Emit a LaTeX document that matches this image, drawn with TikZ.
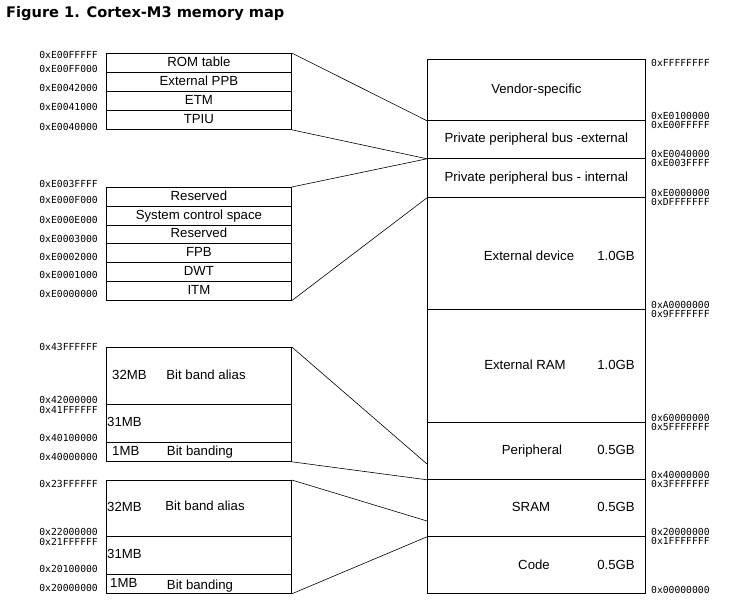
\documentclass[tikz,border=0pt]{standalone}
\usepackage{fontspec}
\setmainfont{Liberation Sans}
\newfontfamily\hexfont{DejaVu Sans Mono}
\newfontfamily\titlefont{DejaVu Sans}
\usetikzlibrary{positioning}
\tikzset{
  region/.style={draw, line width=0.8pt, minimum width=218pt, inner sep=0pt,
    anchor=north west, text height=9.5pt, text depth=2.5pt, font=\fontsize{13.2}{15}\selectfont},
  cell/.style={draw, line width=0.8pt, minimum width=185pt, inner sep=0pt,
    anchor=north west, text height=9.5pt, text depth=2.5pt, font=\fontsize{13.2}{15}\selectfont},
  txt/.style={inner sep=0pt, text height=9.5pt, text depth=2.5pt, font=\fontsize{13.2}{15}\selectfont},
  addr/.style={inner sep=0pt, font=\hexfont\fontsize{9.7}{10}\selectfont},
  link/.style={line width=0.6pt}
}
\begin{document}
\begin{tikzpicture}[x=1pt, y=-1pt]
        \useasboundingbox (0,0) rectangle (731,602);
        % 标题
        \node[anchor=west, inner sep=0pt, font=\titlefont\bfseries\fontsize{14.6}{16}\selectfont] (title) at (6,14) {Figure 1. Cortex-M3 memory map};

        % 右侧: 4GB 存储映射
        \node[region, minimum height=61pt] (vendor) at (427,59) {Vendor-specific};
        \node[region, minimum height=38pt] (ppbext) at (427,120) {Private peripheral bus -external};
        \node[region, minimum height=39pt] (ppbint) at (427,158) {Private peripheral bus - internal};
        \node[region, minimum height=112pt] (extdev) at (427,197) {};
        \node[region, minimum height=113pt] (extram) at (427,309) {};
        \node[region, minimum height=57pt] (periph) at (427,422) {};
        \node[region, minimum height=57pt] (sram) at (427,479) {};
        \node[region, minimum height=57pt] (code) at (427,536) {};

        \node[txt] (extdevN) at (529,257) {External device};
        \node[txt] (extdevS) at (616,257) {1.0GB};
        \node[txt] (extramN) at (525,365.5) {External RAM};
        \node[txt] (extramS) at (616,365.5) {1.0GB};
        \node[txt] (periphN) at (532,451) {Peripheral};
        \node[txt] (periphS) at (616,451) {0.5GB};
        \node[txt] (sramN) at (531,508) {SRAM};
        \node[txt] (sramS) at (616,508) {0.5GB};
        \node[txt] (codeN) at (534,566) {Code};
        \node[txt] (codeS) at (616,566) {0.5GB};

        % 右侧地址
        \foreach \y/\a [count=\i] in {63/0xFFFFFFFF, 115.5/0xE0100000, 124.5/0xE00FFFFF,
            153.5/0xE0040000, 162.5/0xE003FFFF, 192.5/0xE0000000, 201.5/0xDFFFFFFF,
            304.5/0xA0000000, 313.5/0x9FFFFFFF, 417.5/0x60000000, 426.5/0x5FFFFFFF,
            474.5/0x40000000, 483.5/0x3FFFFFFF, 531.5/0x20000000, 540.5/0x1FFFFFFF,
            590/0x00000000}
          \node[addr, anchor=west] (ra\i) at (651,\y) {\a};

        % 左侧: 外部 PPB
        \foreach \n/\y/\t in {rom/53/ROM table, extppb/72/External PPB, etm/91/ETM, tpiu/110/TPIU}
          \node[cell, minimum height=19pt] (\n) at (106,\y) {\t};

        % 左侧: 内部 PPB
        \foreach \n/\y/\t in {res1/187/Reserved, scs/205.8/System control space, res2/224.6/Reserved,
            fpb/243.4/FPB, dwt/262.2/DWT, itm/281/ITM}
          \node[cell, minimum height=18.8pt] (\n) at (106,\y) {\t};

        % 左侧: 外设位带
        \node[cell, minimum height=57pt] (palias) at (106,347) {};
        \node[cell, minimum height=38pt] (pgap) at (106,404) {};
        \node[cell, minimum height=19pt] (pband) at (106,442) {};
        \node[txt, anchor=west] (p32) at (112,375.5) {32MB};
        \node[txt] (paliasT) at (206,375.5) {Bit band alias};
        \node[txt, anchor=west] (p31) at (107,423) {31MB};
        \node[txt, anchor=west] (p1) at (112,451.5) {1MB};
        \node[txt] (pbandT) at (200,451.5) {Bit banding};

        % 左侧: SRAM 位带
        \node[cell, minimum height=56pt] (salias) at (106,480) {};
        \node[cell, minimum height=38pt] (sgap) at (106,536) {};
        \node[cell, minimum height=19pt] (sband) at (106,574) {};
        \node[txt, anchor=west] (s32) at (107,508) {32MB};
        \node[txt] (saliasT) at (205,507) {Bit band alias};
        \node[txt, anchor=west] (s31) at (107,555) {31MB};
        \node[txt, anchor=west] (s1) at (110,584) {1MB};
        \node[txt] (sbandT) at (200,585.5) {Bit banding};

        % 左侧地址
        \foreach \y/\a [count=\i] in {55/0xE00FFFFF, 69/0xE00FF000, 88/0xE0042000,
            107/0xE0041000, 127/0xE0040000,
            184/0xE003FFFF, 200/0xE000F000, 220/0xE000E000, 239/0xE0003000,
            257/0xE0002000, 275/0xE0001000, 294/0xE0000000,
            347/0x43FFFFFF, 400/0x42000000, 410/0x41FFFFFF, 438/0x40100000, 457/0x40000000,
            484/0x23FFFFFF, 532/0x22000000, 542/0x21FFFFFF, 569/0x20100000, 588/0x20000000}
          \node[addr, anchor=east] (la\i) at (98,\y) {\a};

        % 连线
        \coordinate (periphBB) at (427,464);
        \coordinate (sramBB) at (427,521);
        \draw[link] (rom.north east) -- (vendor.south west);
        \draw[link] (tpiu.south east) -- (ppbext.south west);
        \draw[link] (res1.north east) -- (ppbext.south west);
        \draw[link] (itm.south east) -- (ppbint.south west);
        \draw[link] (palias.north east) -- (periphBB);
        \draw[link] (pband.south east) -- (periph.south west);
        \draw[link] (salias.north east) -- (sramBB);
        \draw[link] (sband.south east) -- (sram.south west);
\end{tikzpicture}
\end{document}
